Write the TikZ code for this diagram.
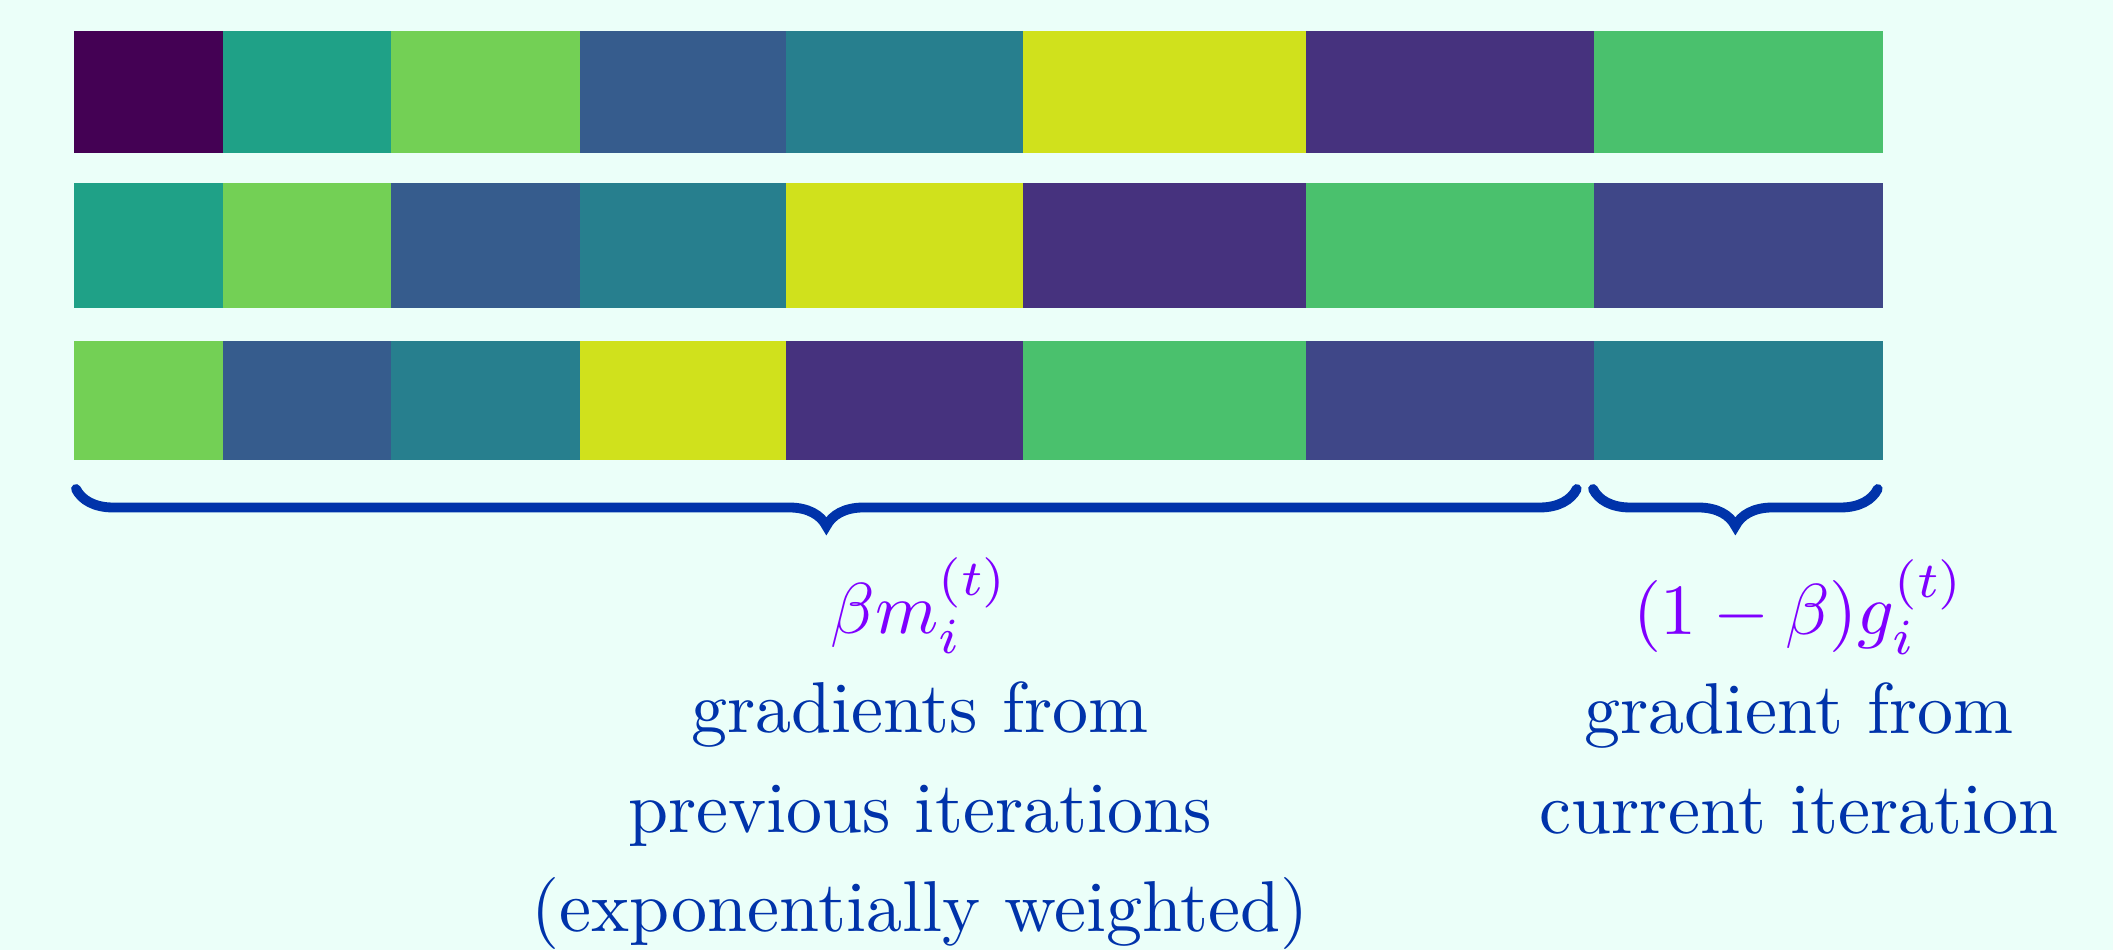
\documentclass[tikz,border=0pt]{standalone}
\usepackage{amsmath}
\usepackage{tikz}
\usetikzlibrary{decorations.pathreplacing, positioning, calc}
\definecolor{bgmint}{HTML}{EBFFF9}
\definecolor{vA}{HTML}{440154}
\definecolor{vB}{HTML}{1FA187}
\definecolor{vC}{HTML}{73D055}
\definecolor{vD}{HTML}{365C8D}
\definecolor{vE}{HTML}{277F8E}
\definecolor{vF}{HTML}{D0E11C}
\definecolor{vG}{HTML}{46327E}
\definecolor{vH}{HTML}{4AC16D}
\definecolor{vI}{HTML}{3F4788}
\definecolor{braceblue}{HTML}{0033AA}
\definecolor{mathviolet}{HTML}{7F00FF}

\begin{document}
\begin{tikzpicture}[
  cell/.style={inner sep=0pt, outer sep=0pt, anchor=north west},
  brc/.style={decorate, decoration={brace, mirror, amplitude=0.37cm}, draw=braceblue, line width=2.8pt, line cap=round},
  lab/.style={align=center, text=braceblue, inner sep=0pt, scale=2.05, transform shape, font=\fontsize{10}{13.8}\selectfont}
]
\fill[bgmint] (0,0) rectangle (21.13,9.5);
\useasboundingbox (0,0) rectangle (21.13,9.5);

% gradient buffer, one row per step, shifted by one slot
\foreach \k/\xl/\xr in {1/0.74/2.23, 2/2.23/3.91, 3/3.91/5.80, 4/5.80/7.86, 5/7.86/10.23, 6/10.23/13.06, 7/13.06/15.94, 8/15.94/18.82}
  \foreach \r/\yt/\yb in {1/9.19/7.97, 2/7.67/6.42, 3/6.09/4.90} {
    \pgfmathtruncatemacro\idx{\k+\r-2}
    \pgfmathparse{{"vA","vB","vC","vD","vE","vF","vG","vH","vI","vE"}[\idx]}
    \edef\cc{\pgfmathresult}
    \node[cell, fill=\cc, minimum width={(\xr-\xl)*1cm+0.2pt}, minimum height={(\yt-\yb)*1cm}] (c\r-\k) at (\xl,\yt) {};
  }

% braces
\coordinate (b1l) at ($(c3-1.south west)+(0.02,-0.29)$);
\coordinate (b1r) at ($(c3-7.south east)+(-0.18,-0.29)$);
\coordinate (b2l) at ($(c3-8.south west)+(-0.01,-0.29)$);
\coordinate (b2r) at ($(c3-8.south east)+(-0.05,-0.29)$);
\draw[brc] (b1l) -- (b1r);
\draw[brc] (b2l) -- (b2r);

% base = last line
\node[lab, anchor=base] (prev) at (9.2,0.183) {\textcolor{mathviolet}{$\beta m_i^{(t)}$}\\ gradients from\\ previous iterations\\ (exponentially weighted)};
\node[lab, anchor=base] (curr) at (17.99,1.167) {\textcolor{mathviolet}{$(1-\beta)g_i^{(t)}$}\\ gradient from\\ current iteration};
\end{tikzpicture}
\end{document}
